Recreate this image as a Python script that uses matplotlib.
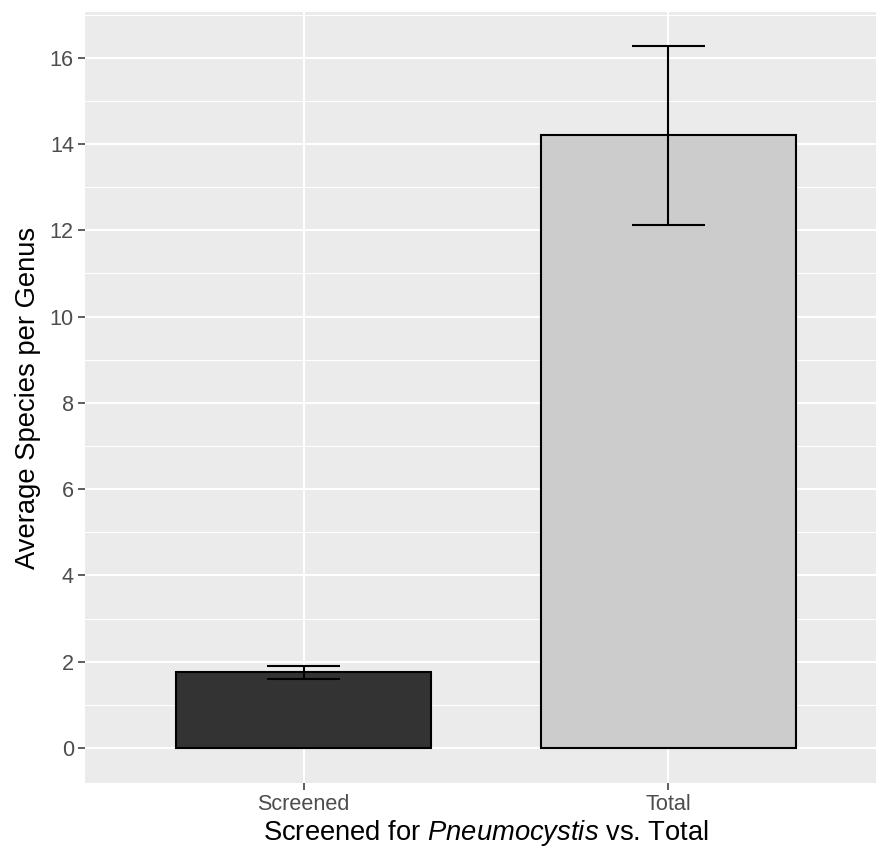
import numpy as np
import matplotlib
matplotlib.use('Agg')
import matplotlib.pyplot as plt
from matplotlib.ticker import MultipleLocator

# Average species per genus, screened vs total
groups = ['Screened', 'Total']
means = [1.75, 14.2]
err_low = [1.59, 12.12]
err_high = [1.90, 16.28]
fills = ['#333333', '#CCCCCC']

plt.rcParams['font.family'] = 'Liberation Sans'
plt.rcParams['mathtext.fontset'] = 'custom'
plt.rcParams['mathtext.rm'] = 'Liberation Sans'
plt.rcParams['mathtext.it'] = 'Liberation Sans:italic'

fig = plt.figure(figsize=(8.76, 8.51), dpi=100)
# panel runs off the right edge in the original
ax = fig.add_axes([85/876, 68/851, (887-85)/876, (783-12)/851])
ax.set_facecolor('#EBEBEB')
for s in ax.spines.values():
    s.set_visible(False)

x = np.arange(1, len(groups) + 1)
ax.bar(x, means, width=0.7, color=fills, edgecolor='black', linewidth=1.5, zorder=3)

lo = np.array(means) - np.array(err_low)
hi = np.array(err_high) - np.array(means)
ax.errorbar(x, means, yerr=[lo, hi], fmt='none', ecolor='black', elinewidth=1.5,
            capsize=0, zorder=4)
# caps as in ggplot (width 0.2)
ax.hlines(err_low, x - 0.1, x + 0.1, color='black', linewidth=1.5, zorder=4)
ax.hlines(err_high, x - 0.1, x + 0.1, color='black', linewidth=1.5, zorder=4)

ax.set_xlim(0.4, 2.6)
ax.set_ylim(-0.8125, 17.0625)
ax.set_xticks(x)
ax.set_xticklabels(groups)
ax.yaxis.set_major_locator(MultipleLocator(2))
ax.yaxis.set_minor_locator(MultipleLocator(1))

ax.grid(True, which='major', color='white', linewidth=1.5, zorder=0)
ax.grid(True, which='minor', axis='y', color='white', linewidth=0.75, zorder=0)
ax.set_axisbelow(True)

ax.tick_params(which='major', length=5, width=1.1, color='#333333',
               labelcolor='#4D4D4D', labelsize=15.6, pad=3)
ax.tick_params(which='minor', length=0)

ax.set_xlabel(r'Screened for $\mathit{Pneumocystis}$ vs. Total', fontsize=19.7, labelpad=2)
ax.set_ylabel('Average Species per Genus', fontsize=19.7, labelpad=6)

fig.savefig('out.png', dpi=100)
